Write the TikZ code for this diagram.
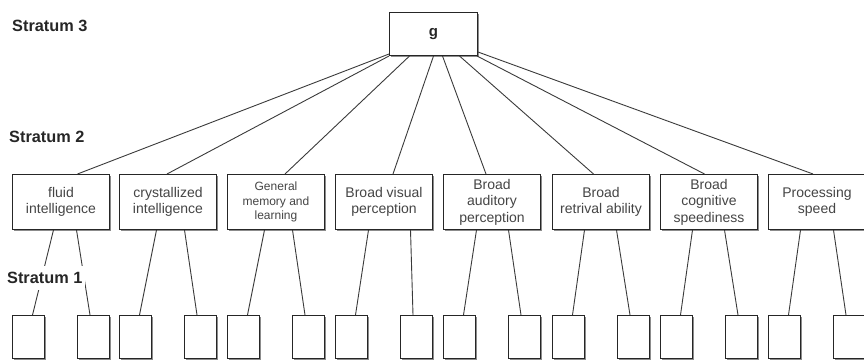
\documentclass[tikz,border=0pt]{standalone}
\usepackage{fontspec}
\setmainfont{Liberation Sans}
\usetikzlibrary{shadows}
\definecolor{ink}{HTML}{262626}
\definecolor{boxtext}{HTML}{454545}
\definecolor{edge}{HTML}{3A3A3A}
\begin{document}
\begin{tikzpicture}[x=1pt,y=-1pt,
  box/.style={draw=ink, line width=1pt, fill=white, inner sep=0pt,
    anchor=north west, align=center, text=boxtext,
    font=\fontsize{14}{16.5}\selectfont,
    drop shadow={shadow xshift=1.3pt, shadow yshift=-1.3pt, fill=black, opacity=0.45}},
  ability/.style={box, minimum width=97pt, minimum height=55pt},
  leaf/.style={box, minimum width=32pt, minimum height=43pt},
  level/.style={anchor=west, inner sep=0pt, text=ink,
    font=\bfseries\fontsize{16.3}{19}\selectfont},
  link/.style={draw=edge, line width=0.9pt}]
\useasboundingbox (0,0) rectangle (864,361);

% stratum headings
\node[level] (s3) at (12,26) {Stratum 3};
\node[level] (s2) at (9,137) {Stratum 2};

% general factor
\node[box, minimum width=88pt, minimum height=43pt,
  font=\bfseries\fontsize{15}{18}\selectfont, text=ink] (g) at (389,12) {g};

% broad abilities
\node[ability] (b1) at (12,174)  {fluid\\intelligence};
\node[ability] (b2) at (119,174) {crystallized\\intelligence};
\node[ability, font=\fontsize{12}{14.5}\selectfont] (b3) at (227,174) {General\\memory and\\learning};
\node[ability] (b4) at (335,174) {Broad visual\\perception};
\node[ability] (b5) at (443,174) {Broad\\auditory\\perception};
\node[ability] (b6) at (552,174) {Broad\\retrival ability};
\node[ability] (b7) at (660,174) {Broad\\cognitive\\speediness};
\node[ability] (b8) at (768,174) {Processing\\speed};

% narrow abilities, two under each broad ability
\foreach \i/\l in {1/12,2/119,3/227,4/335,5/443,6/552,7/660,8/768} {
  \node[leaf] (l\i) at (\l,315) {};
  \node[leaf] (r\i) at (\l+65,315) {};
}

% g to stratum 2
\draw[link] ([yshift=2pt]g.south west) -- ([xshift=16.5pt]b1.north);
\draw[link] (g.south west) -- ([xshift=-1pt]b2.north);
\draw[link] ([xshift=-24pt]g.south) -- ([xshift=9pt]b3.north);
\draw[link] (g.south) -- ([xshift=9pt]b4.north);
\draw[link] ([xshift=9pt]g.south) -- ([xshift=-6pt]b5.north);
\draw[link] ([xshift=26pt]g.south) -- ([xshift=-7.5pt]b6.north);
\draw[link] ([xshift=-1pt]g.south east) -- ([xshift=-4.5pt]b7.north);
\draw[link] ([yshift=4pt]g.south east) -- ([xshift=-4pt]b8.north);

% stratum 2 to stratum 1
\foreach \i/\a/\b in {1/-7.5/15.5, 2/-11.5/16.5, 3/-11.5/16.5, 4/-15.5/26.5,
                      5/-15.5/16.5, 6/-16.5/15.5, 7/-16.5/15.5, 8/-16.5/16.5} {
  \draw[link] ([xshift=\a pt]b\i.south) -- ([xshift=4pt]l\i.north);
  \draw[link] ([xshift=\b pt]b\i.south) -- ([xshift=-3.5pt]r\i.north);
}

% lowest heading sits over the first pair of links
\node[level, fill=white, inner xsep=3pt, inner ysep=6pt] (s1) at (4,278) {Stratum 1};
\end{tikzpicture}
\end{document}
